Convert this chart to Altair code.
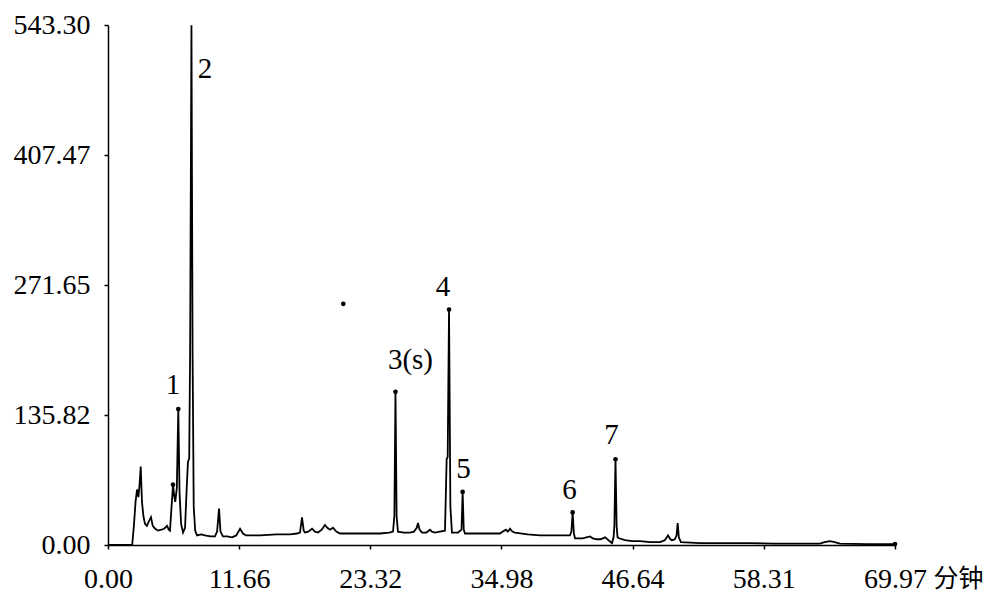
import altair as alt
import pandas as pd

# Chromatogram trace (time in minutes, signal)
times = [0, 2.15, 2.3, 2.45, 2.58, 2.7, 2.8, 2.91, 3.02, 3.15, 3.29, 3.45, 3.6, 3.82, 3.98,
         4.2, 4.45, 4.75, 5.0, 5.25, 5.4, 5.51, 5.65, 5.78, 5.9, 5.98, 6.12, 6.25, 6.36, 6.5,
         6.67, 6.85, 7.0, 7.11, 7.22, 7.3, 7.42, 7.52, 7.62, 7.75, 7.91, 8.3, 8.62, 9.1, 9.51,
         9.7, 9.87, 10.0, 10.22, 10.6, 11.02, 11.4, 11.74, 12.0, 12.27, 13.51, 15.0, 16.18,
         16.8, 17.07, 17.25, 17.4, 17.51, 17.8, 18.14, 18.4, 18.67, 19.0, 19.29, 19.5, 19.74,
         20.0, 20.3, 20.63, 21.5, 22.4, 23.3, 24.18, 25.0, 25.34, 25.46, 25.56, 25.66, 25.78,
         26.3, 26.85, 27.2, 27.45, 27.56, 27.7, 27.92, 28.3, 28.63, 28.8, 29.07, 29.5, 29.96,
         30.05, 30.11, 30.2, 30.32, 30.44, 30.58, 31.12, 31.43, 31.53, 31.63, 31.74, 32.5,
         33.07, 34.0, 34.85, 35.1, 35.38, 35.55, 35.74, 35.95, 36.18, 37.3, 38.41, 39.3,
         40.19, 41.07, 41.2, 41.31, 41.42, 41.52, 42.2, 42.85, 43.1, 43.47, 43.8, 44.19, 44.5,
         44.81, 44.95, 45.02, 45.12, 45.22, 45.3, 45.43, 45.96, 46.6, 47.3, 48.2, 49.08, 49.5,
         49.79, 50.0, 50.14, 50.4, 50.55, 50.65, 50.75, 50.94, 52.63, 55.0, 57.08, 59.3,
         61.52, 63.3, 63.7, 64.19, 64.6, 65.08, 67.5, 69.97]
signal = [0, 0, 20, 45, 58, 50, 62, 82, 45, 30, 22, 20, 24, 29, 20,
          17, 15, 16, 17, 20, 16, 15, 40, 63, 50, 45, 60, 142, 55, 22,
          13, 18, 60, 87, 90, 200, 543, 200, 40, 15, 10, 11, 10, 9, 9,
          14, 38, 14, 9, 9, 8, 10, 17, 12, 10, 10, 11, 11,
          12, 13, 29, 15, 13, 14, 17, 14, 13, 16, 21, 18, 16,
          18, 14, 12, 12, 12, 12, 12, 13, 14, 30, 160, 30, 14,
          13, 13, 14, 18, 23, 16, 13, 13, 16, 14, 13, 14, 15,
          60, 90, 92, 246, 40, 13, 13, 16, 55, 16, 12, 12,
          12, 12, 12, 14, 16, 14, 17, 14, 13, 11, 10, 10,
          10, 10, 14, 34, 12, 7, 7, 9, 7, 6, 6, 8, 5,
          2, 8, 20, 90, 20, 8, 7, 5, 4, 4, 3, 3, 5,
          10, 6, 5, 6, 10, 23, 8, 3, 2, 2, 2, 1.5,
          1.5, 1.5, 3, 4, 3, 1.5, 1, 1]

# Dots marking peak apexes
dot_t = [5.78, 6.25, 25.56, 30.32, 31.53, 41.31, 45.12, 69.97, 20.92]
dot_v = [63, 142, 160, 246, 55.5, 34, 89.6, 1, 252]

# Peak labels
label_text = ["1", "2", "3(s)", "4", "5", "6", "7"]
label_t = [5.78, 8.62, 26.89, 29.78, 31.61, 41.03, 44.76]
label_v = [167.5, 497.4, 193, 269.7, 79.7, 57.2, 115.4]

x_ticks = [0, 11.66, 23.32, 34.98, 46.64, 58.31, 69.97]
y_ticks = [0, 135.82, 271.65, 407.47, 543.30]

trace = pd.DataFrame({"t": times, "v": signal})
dots = pd.DataFrame({"t": dot_t, "v": dot_v})
labels = pd.DataFrame({"t": label_t, "v": label_v, "lab": label_text})

xs = alt.Scale(domain=[0, 69.97], nice=False, zero=False)
ys = alt.Scale(domain=[0, 543.3], nice=False)

x_axis = alt.Axis(values=x_ticks, format=".2f", grid=False, domainColor="black",
                  domainWidth=1.5, tickColor="black", tickSize=4, tickWidth=1.5,
                  labelFont="Liberation Serif", labelFontSize=28, labelColor="black",
                  labelBaseline="alphabetic", labelPadding=38, labelFlush=False,
                  labelOverlap=False, title="分钟", titleFont="Noto Sans CJK SC",
                  titleFontSize=25, titleFontWeight="normal", titleColor="black",
                  titleAngle=0, titleAlign="left", titleBaseline="alphabetic",
                  titleX=825, titleY=41)
y_axis = alt.Axis(values=y_ticks, format=".2f", grid=False, domainColor="black",
                  domainWidth=1.5, tickColor="black", tickSize=4, tickWidth=1.5,
                  labelFont="Liberation Serif", labelFontSize=28, labelColor="black",
                  labelBaseline="middle", labelPadding=14, labelFlush=False,
                  labelOverlap=False, title=None)

line = alt.Chart(trace).mark_line(color="black", strokeWidth=1.8).encode(
    x=alt.X("t:Q", scale=xs, axis=x_axis),
    y=alt.Y("v:Q", scale=ys, axis=y_axis),
)
pts = alt.Chart(dots).mark_point(filled=True, color="black", size=22, opacity=1).encode(
    x=alt.X("t:Q", scale=xs),
    y=alt.Y("v:Q", scale=ys),
)
txt = alt.Chart(labels).mark_text(font="Liberation Serif", fontSize=29, color="black",
                                  align="center", baseline="middle").encode(
    x=alt.X("t:Q", scale=xs),
    y=alt.Y("v:Q", scale=ys),
    text="lab:N",
)

chart = alt.layer(line, pts, txt).properties(
    width=787, height=520,
    autosize=alt.AutoSizeParams(type="none"),
    padding={"left": 100, "top": 17, "right": 92, "bottom": 51},
    background="white",
).configure_view(stroke=None)

chart.save("out.html", embed_options={"renderer": "svg", "actions": False})
